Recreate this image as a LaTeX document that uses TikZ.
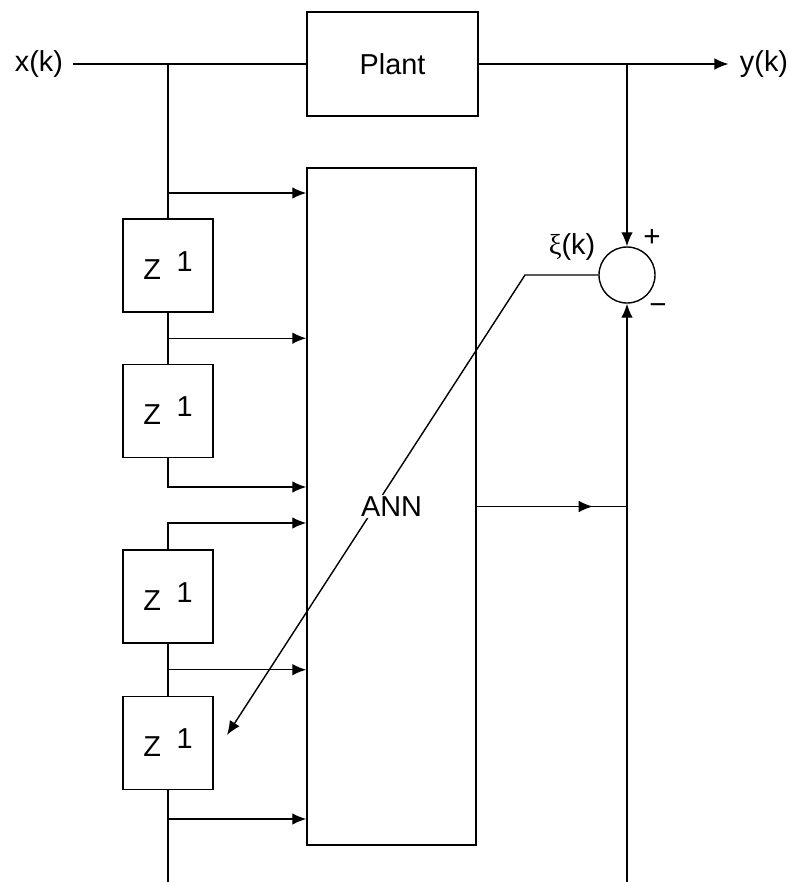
\documentclass[tikz,border=0pt]{standalone}
\usepackage{fontspec}
\setmainfont{Liberation Sans}
\newfontfamily\greekfont{Liberation Serif}
\usetikzlibrary{arrows.meta, positioning, calc}

\begin{document}
\begin{tikzpicture}[
    x=0.025cm, y=-0.025cm,
    node distance=1.275cm,
    block/.style={rectangle, draw=black, line width=1pt, fill=white, align=center, font=\fontsize{20.5}{24}\selectfont},
    delay/.style={block, minimum width=2.25cm, minimum height=2.325cm},
    sumnode/.style={circle, draw=black, line width=1pt, minimum size=1.4cm, inner sep=0pt},
    lbl/.style={font=\fontsize{20.5}{24}\selectfont, inner sep=2pt},
    sign/.style={font=\fontsize{21}{24}\selectfont, inner sep=0pt},
    wire/.style={draw=black, line width=1pt},
    line/.style={draw=black, line width=1pt, -{Latex[length=3.5mm, width=2.9mm]}}
]
    \useasboundingbox (0,0) rectangle (788,882);

    % Plant and ANN
    \node[lbl, inner xsep=7pt] (xk) at (39,64) {x(k)};
    \node[block, minimum width=4.275cm, minimum height=2.6cm] (plant) at (392.5,64) {Plant};
    \node[lbl, inner xsep=8pt] (yk) at (764,64) {y(k)};
    \node[block, minimum width=4.225cm, minimum height=16.925cm] (ann) at (391.5,506.5) {};

    % tapped delay line
    \node[delay] (z1) at (168,265.5) {Z\hspace{0.55em}\raisebox{0.28em}{1}};
    \node[delay, below=of z1] (z2) {Z\hspace{0.55em}\raisebox{0.28em}{1}};
    \node[delay] (z3) at (168,596.5) {Z\hspace{0.55em}\raisebox{0.28em}{1}};
    \node[delay, below=1.3cm of z3] (z4) {Z\hspace{0.55em}\raisebox{0.28em}{1}};

    % comparison
    \node[sumnode] (sum) at (627,275) {};
    \node[sign] (plus) at (652,238) {+};
    \node[sign] (minus) at (658,309) {−};
    \node[lbl] (xi) at (572,247) {{\greekfont ξ}(k)};

    \coordinate (tap0) at (168,64);
    \coordinate (t1) at (168,193);
    \coordinate (t2) at ($(z1.south)!0.5!(z2.north)$);
    \coordinate (t3) at (168,487);
    \coordinate (t4) at (168,523);
    \coordinate (t5) at ($(z3.south)!0.5!(z4.north)$);
    \coordinate (t6) at (168,819);
    \coordinate (lbot) at (168,882);
    \coordinate (rbot) at (627,882);
    \coordinate (bend) at (525,275);
    \coordinate (errtip) at (227,735);
    \coordinate (annout) at (ann.east -| sum.south);

    % Connectors
    \draw[wire] (xk) -- (plant);
    \draw[line] (plant) -- (yk);
    \draw[line] (plant.east -| sum.north) -- (sum);
    \draw[wire] (tap0) -- (z1);
    \draw[line] (t1) -- (t1 -| ann.west);
    \draw[wire] (z1) -- (z2);
    \draw[line] (t2) -- (t2 -| ann.west);
    \draw[line] (z2.south) |- (t3 -| ann.west);
    \draw[line] (z3.north) |- (t4 -| ann.west);
    \draw[wire] (z3) -- (z4);
    \draw[line] (t5) -- (t5 -| ann.west);
    \draw[wire] (z4) -- (lbot);
    \draw[line] (t6) -- (t6 -| ann.west);
    \draw[line] (ann.east) -- ++(116,0);
    \draw[wire] (ann.east) -- (annout);
    \draw[line] (rbot) -- (sum);
    \draw[line] (sum.west) -- (bend) -- (errtip);

    \node[lbl, fill=white, inner sep=1pt] (annlbl) at (ann.center) {ANN};
\end{tikzpicture}
\end{document}
